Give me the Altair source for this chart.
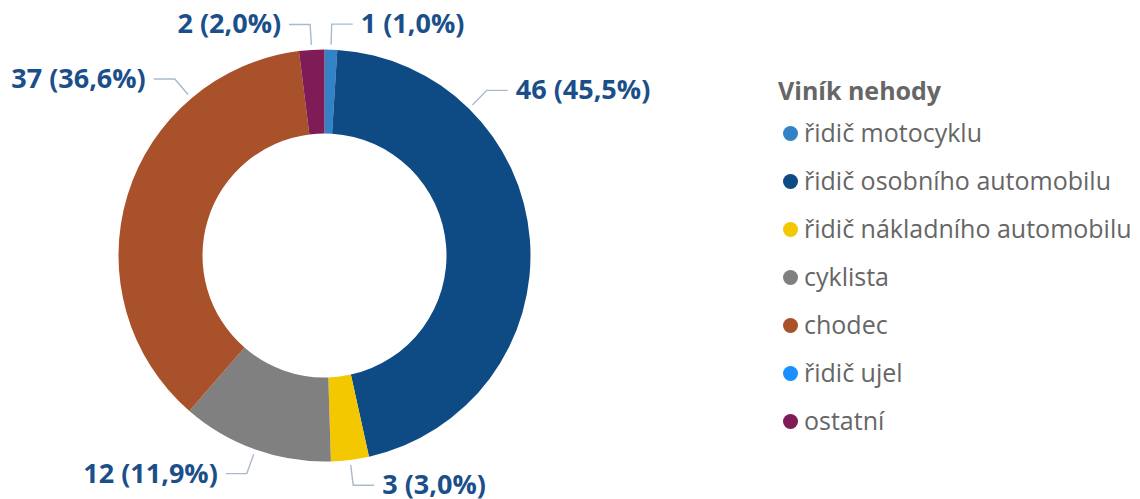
import math
import altair as alt
import pandas as pd

# ---- data ----
categories = ["řidič motocyklu", "řidič osobního automobilu", "řidič nákladního automobilu",
              "cyklista", "chodec", "řidič ujel", "ostatní"]
counts = [1, 46, 3, 12, 37, 0, 2]
colors = ["#3482C6", "#0E4A84", "#F4C800", "#808080", "#A8512A", "#1A8FFF", "#7F1B57"]
legend_title = "Viník nehody"

# ---- layout (style only) ----
W, H = 1140, 499
CX, CY = 324.5, 255.5
R_OUT, R_IN = 206, 122
R_LEAD0, R_LEAD1 = 211, 231.5
H_LEN = 21
TEXT_GAP = 8
# label anchor angles (degrees, clockwise from top) where the label is moved off the slice middle
label_angle_override = {"řidič osobního automobilu": 44.5, "chodec": 319.7}

total = sum(counts)
slices = pd.DataFrame({"category": categories, "count": counts, "idx": list(range(len(categories)))})

line_rows, text_rows = [], []
cum = 0
for cat, v in zip(categories, counts):
    mid = (cum + v / 2) / total * 360
    cum += v
    if v == 0:
        continue
    ang = label_angle_override.get(cat, mid)
    a = math.radians(ang)
    sx, sy = CX + R_LEAD0 * math.sin(a), CY - R_LEAD0 * math.cos(a)
    ex, ey = CX + R_LEAD1 * math.sin(a), CY - R_LEAD1 * math.cos(a)
    side = 1 if math.sin(a) > 0 else -1
    hx = ex + side * H_LEN
    line_rows += [
        {"category": cat, "pt": 0, "x": sx, "y": sy},
        {"category": cat, "pt": 1, "x": ex, "y": ey},
        {"category": cat, "pt": 2, "x": hx, "y": ey},
    ]
    pct = f"{v / total * 100:.1f}".replace(".", ",")
    text_rows.append({"category": cat, "x": hx + side * TEXT_GAP, "y": ey + 1,
                      "label": f"{v} ({pct}%)", "side": "right" if side > 0 else "left"})

lines = pd.DataFrame(line_rows)
texts = pd.DataFrame(text_rows)

xs = alt.Scale(domain=[0, W], nice=False, zero=False)
ys = alt.Scale(domain=[0, H], nice=False, zero=False, reverse=True)

arc = alt.Chart(slices).mark_arc(innerRadius=R_IN, outerRadius=R_OUT).encode(
    theta=alt.Theta("count:Q", stack=True),
    color=alt.Color("category:N", scale=alt.Scale(domain=categories, range=colors),
                    legend=alt.Legend(title=legend_title, orient="none", legendX=778, legendY=80,
                                      titleFont="Open Sans", titleFontSize=25, titleFontWeight="bold",
                                      titleColor="#666666", titlePadding=16,
                                      labelFont="Open Sans", labelFontSize=25, labelColor="#666666",
                                      labelOffset=1, symbolType="circle", symbolSize=225,
                                      symbolStrokeWidth=0, rowPadding=22, padding=0,
                                      labelLimit=400)),
    order=alt.Order("idx:Q"),
    x=alt.value(CX),
    y=alt.value(CY),
)

leaders = alt.Chart(lines).mark_line(color="#A9BACB", strokeWidth=1.4).encode(
    x=alt.X("x:Q", scale=xs, axis=None),
    y=alt.Y("y:Q", scale=ys, axis=None),
    detail="category:N",
    order="pt:Q",
)

text_style = dict(font="Open Sans", fontSize=27, fontWeight="bold", color="#1B4F8A", baseline="middle")
right_text = alt.Chart(texts).transform_filter(alt.datum.side == "right").mark_text(align="left", **text_style).encode(
    x=alt.X("x:Q", scale=xs, axis=None), y=alt.Y("y:Q", scale=ys, axis=None), text="label:N")
left_text = alt.Chart(texts).transform_filter(alt.datum.side == "left").mark_text(align="right", **text_style).encode(
    x=alt.X("x:Q", scale=xs, axis=None), y=alt.Y("y:Q", scale=ys, axis=None), text="label:N")

chart = alt.layer(arc, leaders, right_text, left_text).properties(
    width=W, height=H, autosize=alt.AutoSizeParams(type="none"), padding=0
).configure_view(stroke=None)

chart.save("out.html", embed_options={"renderer": "svg", "actions": False})
